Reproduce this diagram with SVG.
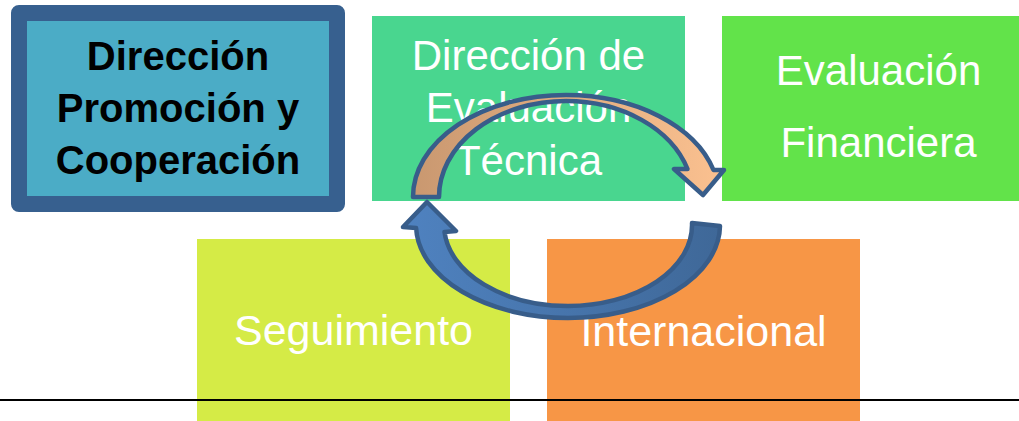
<svg xmlns="http://www.w3.org/2000/svg" width="1019" height="421" viewBox="0 0 1019 421">
  <style>
    .lbl { font-family: "Liberation Sans", Arial, sans-serif; fill: #ffffff; text-anchor: middle; }
    .bold { font-family: "Liberation Sans", Arial, sans-serif; font-weight: bold; fill: #000000; text-anchor: middle; font-size: 40px; }
    .arrow { stroke: #385D8A; stroke-width: 4.5; stroke-linejoin: round; }
  </style>
  <defs>
    <linearGradient id="gTop" x1="0" y1="0" x2="1" y2="0">
      <stop offset="0" stop-color="#C99870"/>
      <stop offset="1" stop-color="#FBC190"/>
    </linearGradient>
    <linearGradient id="gBot" x1="0" y1="0" x2="1" y2="0">
      <stop offset="0" stop-color="#4F82C0"/>
      <stop offset="1" stop-color="#3F6898"/>
    </linearGradient>
  </defs>
  <rect width="1019" height="421" fill="#ffffff"/>

  <g id="node-direccion-promocion">
    <rect x="19" y="13" width="318" height="191" fill="#4BACC6" stroke="#37608F" stroke-width="16" stroke-linejoin="round"/>
    <text class="bold" x="178" y="70">Dirección</text>
    <text class="bold" x="178" y="122">Promoción y</text>
    <text class="bold" x="178" y="174">Cooperación</text>
  </g>

  <g id="node-evaluacion-tecnica">
    <rect x="372" y="16" width="313" height="185" fill="#49D68F"/>
    <text class="lbl" x="528.5" y="70" font-size="42">Dirección de</text>
    <text class="lbl" x="528.5" y="122" font-size="42">Evaluación</text>
    <text class="lbl" x="528.5" y="175" font-size="42">Técnica</text>
  </g>

  <g id="node-evaluacion-financiera">
    <rect x="722" y="16" width="313" height="185" fill="#62E34A"/>
    <text class="lbl" x="878.5" y="85" font-size="42">Evaluación</text>
    <text class="lbl" x="878.5" y="157" font-size="42">Financiera</text>
  </g>

  <g id="node-seguimiento">
    <rect x="197" y="239" width="313" height="185" fill="#D5EB46"/>
    <text class="lbl" x="353.5" y="345" font-size="43">Seguimiento</text>
  </g>

  <g id="node-internacional">
    <rect x="547" y="239" width="313" height="185" fill="#F79646"/>
    <text class="lbl" x="703.5" y="346" font-size="43">Internacional</text>
  </g>

  <g id="connectors">
    <path class="arrow" fill="url(#gTop)" d="M 413,197 A 153,102 0 0 1 566,95 A 153,102 0 0 1 713.5,170 L 724,170 L 703,195 L 674,169 L 687.5,169 A 127,96 0 0 0 566,101 A 127,96 0 0 0 439,197 Z"/>
    <path class="arrow" fill="url(#gBot)" d="M 692,223 L 720,226 A 152,93 0 0 1 568,318 A 152,93 0 0 1 416.1,228 L 403,227 L 427,202 L 456,231 L 444.5,232 A 124,81 0 0 0 568,306 A 124,81 0 0 0 692,223 Z"/>
  </g>

  <line x1="0" y1="400" x2="1019" y2="400" stroke="#000000" stroke-width="2"/>
</svg>
